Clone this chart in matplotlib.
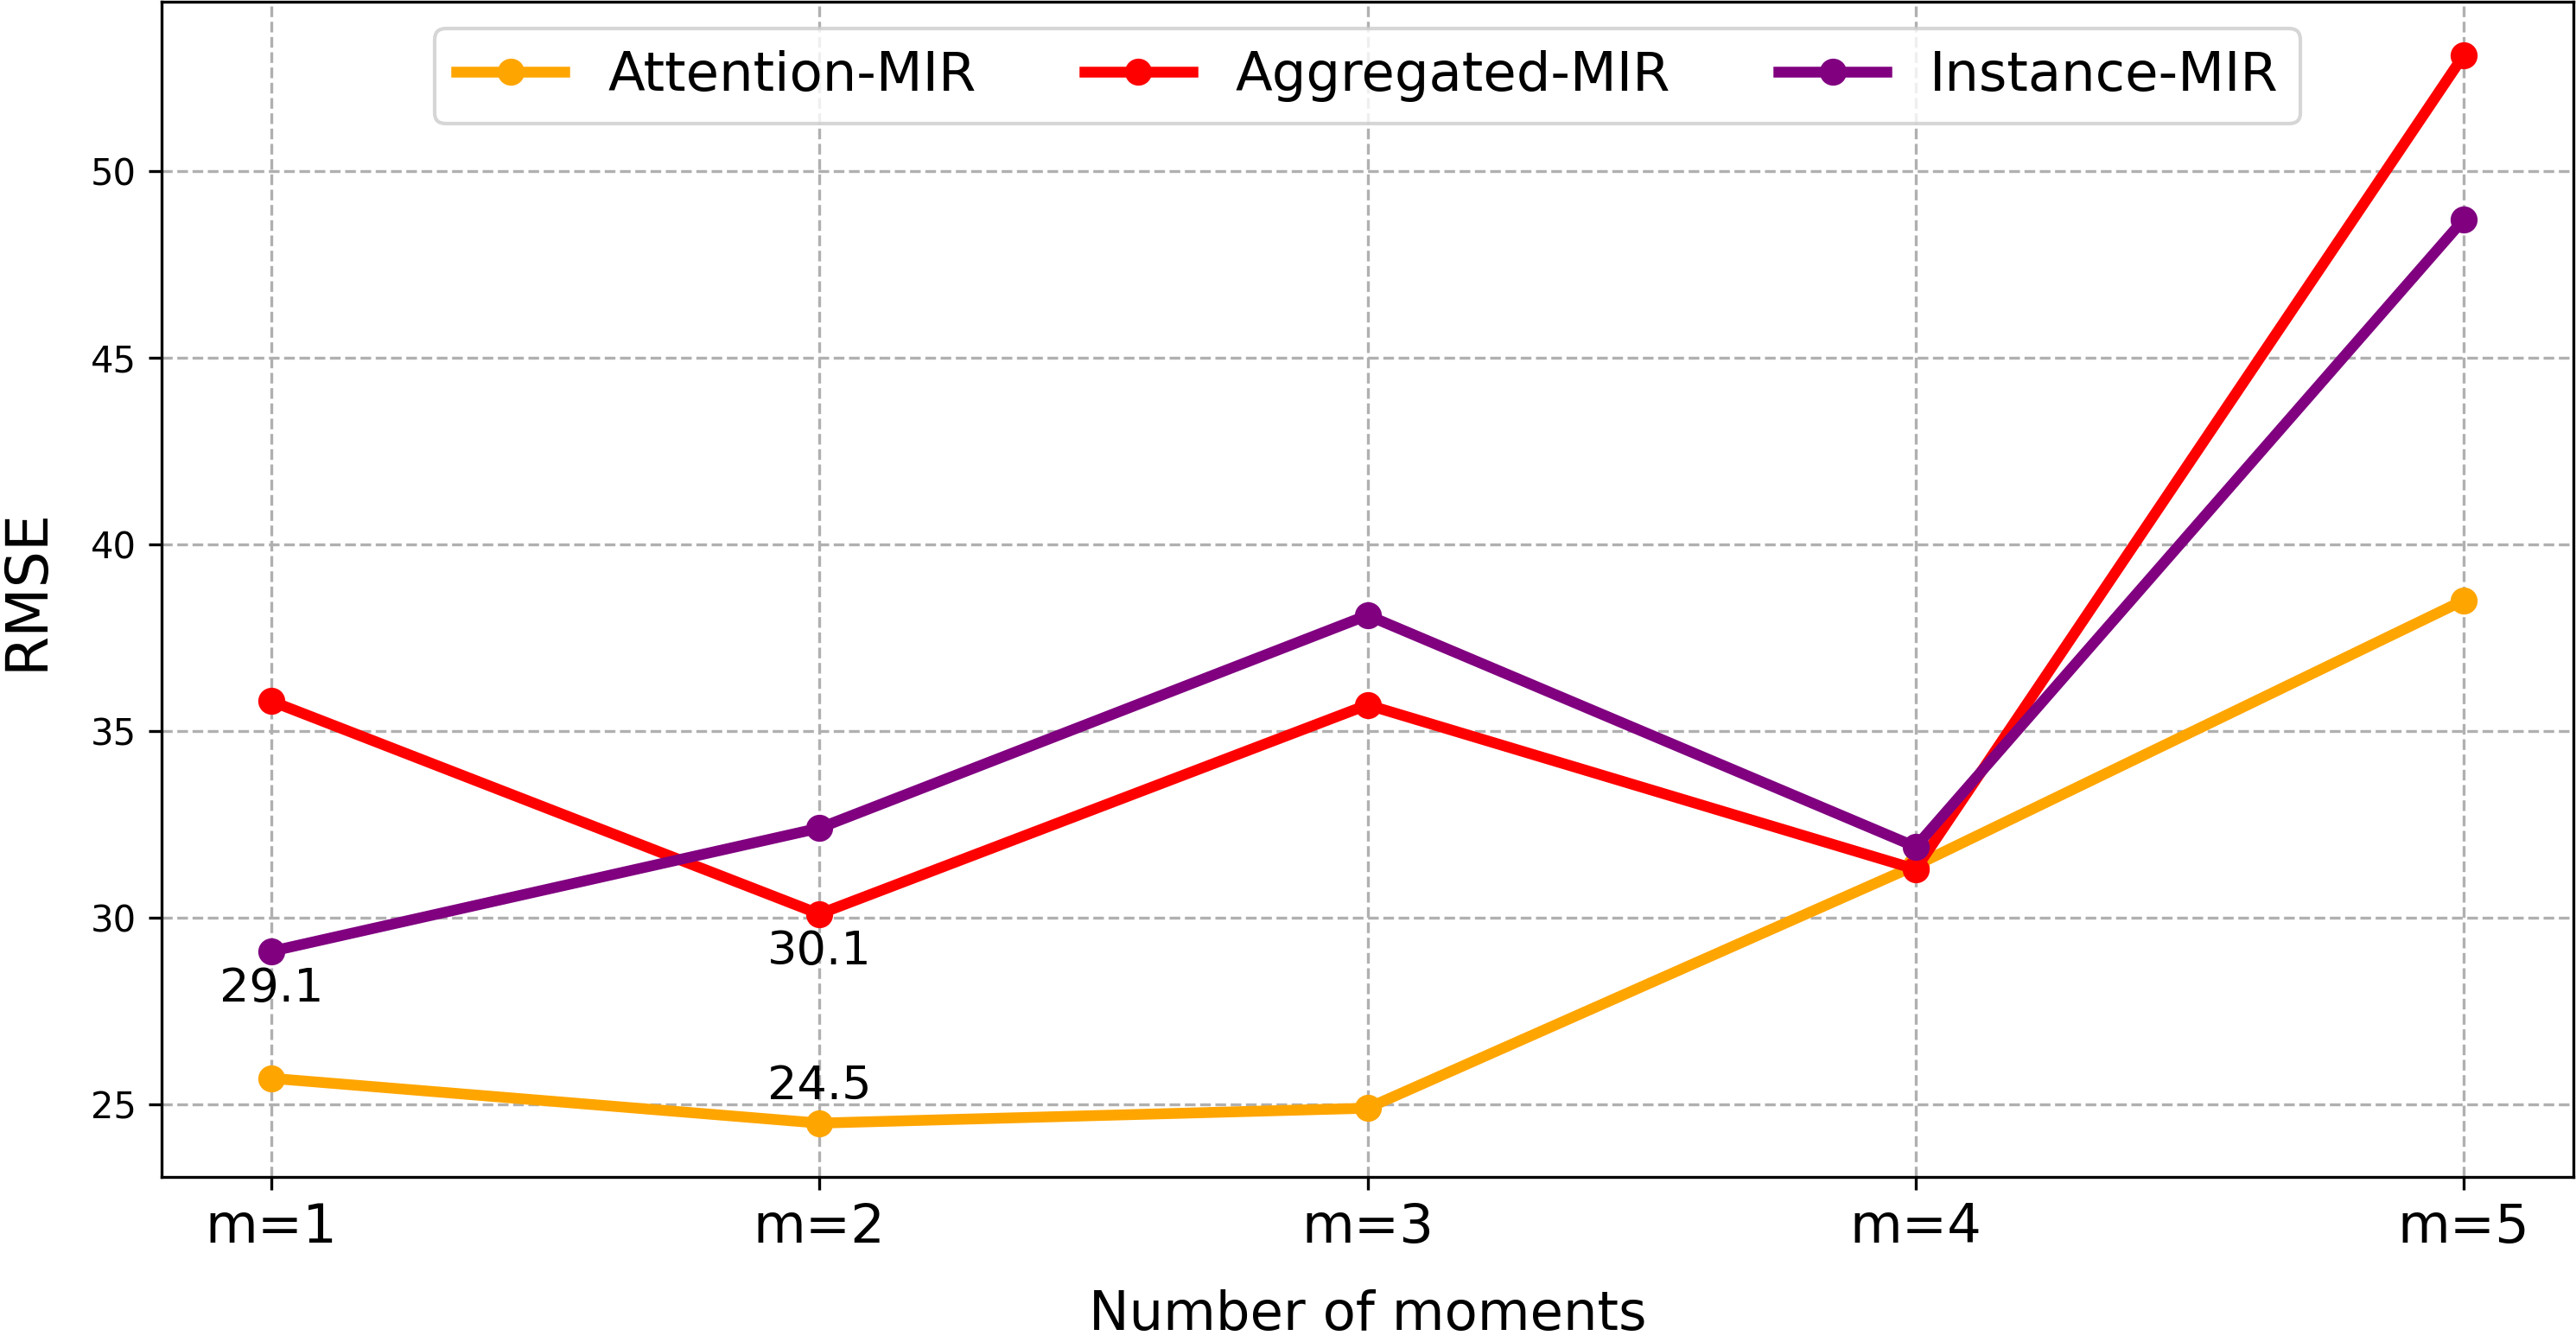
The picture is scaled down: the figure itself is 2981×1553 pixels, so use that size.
import matplotlib
matplotlib.use("Agg")
import matplotlib.pyplot as plt

categories = ["m=1", "m=2", "m=3", "m=4", "m=5"]
attention = [25.7, 24.5, 24.9, 31.4, 38.5]
aggregated = [35.8, 30.1, 35.7, 31.3, 53.1]
instance = [29.1, 32.4, 38.1, 31.9, 48.7]

# annotated points: (series, index, direction)
annotations = [("instance", 0, -1), ("aggregated", 1, -1), ("attention", 1, 1)]

fig = plt.figure(figsize=(2981 / 300, 1553 / 300), dpi=300)
ax = fig.add_axes([187 / 2981, 191.5 / 1553, (2978 - 187) / 2981, (1361.5 - 2) / 1553])

x = list(range(len(categories)))
series = {"attention": attention, "aggregated": aggregated, "instance": instance}
ax.plot(x, attention, color="orange", marker="o", lw=3, markersize=6.5, label="Attention-MIR")
ax.plot(x, aggregated, color="red", marker="o", lw=3, markersize=6.5, label="Aggregated-MIR")
ax.plot(x, instance, color="purple", marker="o", lw=3, markersize=6.5, label="Instance-MIR")

for name, i, d in annotations:
    v = series[name][i]
    ax.text(x[i], v + d * 1.0, f"{v:.1f}", ha="center", va="center", fontsize=13)

ax.set_xticks(x)
ax.set_xticklabels(categories, fontsize=15)
ax.tick_params(axis="y", labelsize=10)
ax.set_xlabel("Number of moments", fontsize=15, labelpad=10)
ax.set_ylabel("RMSE", fontsize=16, labelpad=10)
ax.grid(True, linestyle="--")
ax.legend(loc="upper center", ncol=3, fontsize=15)

fig.savefig("out.png", dpi=300)
